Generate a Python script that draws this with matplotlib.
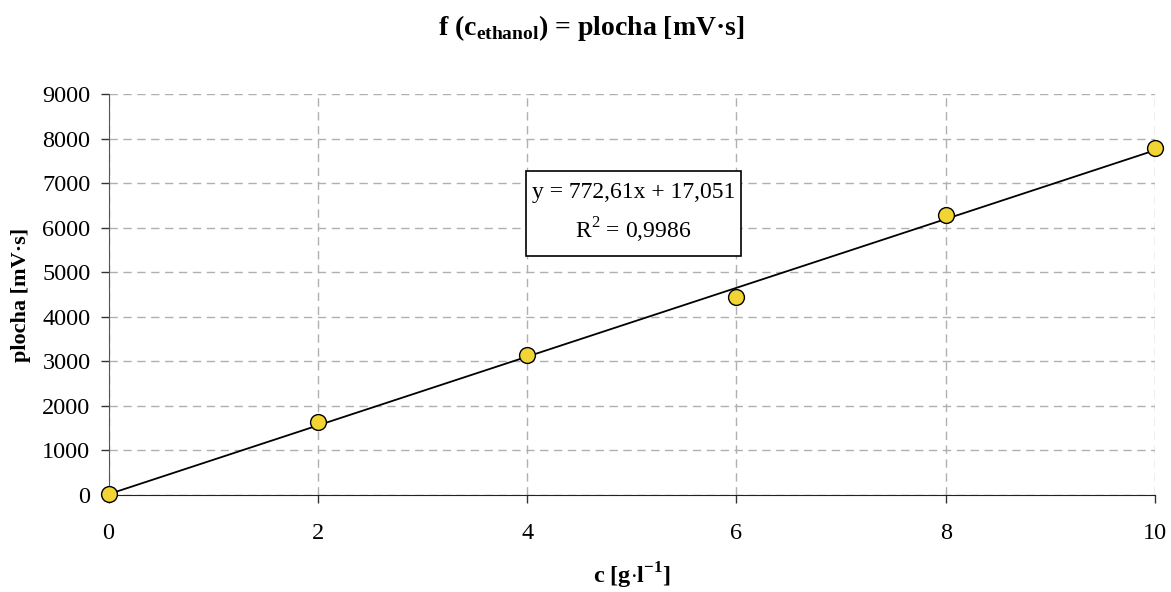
import matplotlib
matplotlib.use("Agg")
import matplotlib.pyplot as plt
from matplotlib.patches import Rectangle
import numpy as np

# Data
conc = [0, 2, 4, 6, 8, 10]
area = [20, 1645, 3150, 4450, 6290, 7800]
slope = 772.61
intercept = 17.051
eq_text = "y = 772,61x + 17,051\nR$^{2}$ = 0,9986"
x_ticks = [0, 2, 4, 6, 8, 10]
y_ticks = list(range(0, 9001, 1000))

plt.rcParams['font.family'] = ['Liberation Serif', 'DejaVu Serif']
plt.rcParams['mathtext.fontset'] = 'custom'
plt.rcParams['mathtext.rm'] = 'Liberation Serif'
plt.rcParams['mathtext.bf'] = 'Liberation Serif:bold'

W, H = 1171, 592
fig = plt.figure(figsize=(W/100, H/100), dpi=100)
ax = fig.add_axes([108.5/W, 1-495/H, (1155-108.5)/W, (495-94.3)/H])

ax.set_xlim(0, 10)
ax.set_ylim(0, 9000)
ax.set_xticks(x_ticks)
ax.set_yticks(y_ticks)
ax.grid(True, color='#b0b0b0', linestyle=(0, (6, 4)), linewidth=1)
ax.set_axisbelow(True)

for s in ['top', 'right']:
    ax.spines[s].set_visible(False)
ax.spines['left'].set_color('#555555')
ax.spines['bottom'].set_color('#222222')
ax.tick_params(axis='both', direction='out', length=6, width=1, color='#333333',
               labelsize=17.5)
ax.tick_params(axis='y', pad=7)
ax.tick_params(axis='x', pad=14)

xs = np.array([0, 10])
ax.plot(xs, slope*xs + intercept, color='black', linewidth=1.3, zorder=3, clip_on=False)
ax.scatter(conc, area, s=130, color='#f2d535', edgecolor='black', linewidth=1.0,
           zorder=4, clip_on=False)

# equation box (annotation)
fig.patches.append(Rectangle((526/W, 1-256/H), 215/W, 85/H, transform=fig.transFigure,
                             facecolor='white', edgecolor='black', linewidth=1.2, zorder=5))
fig.text(633.5/W, 1-213.5/H, eq_text, ha='center', va='center', fontsize=17,
         linespacing=1.55, zorder=6)

ax.set_xlabel(r'c [g$\cdot$l$^{\mathbf{-1}}$]', fontsize=17.5, fontweight='bold', labelpad=12)
ax.set_ylabel('plocha [mV·s]', fontsize=16, fontweight='bold', labelpad=8)

fig.text(0.505, 0.953, r'f (c$_{\mathbf{ethanol}}$) = plocha [mV·s]', ha='center', va='center',
         fontsize=20, fontweight='bold')

fig.savefig('out.png', dpi=100)
